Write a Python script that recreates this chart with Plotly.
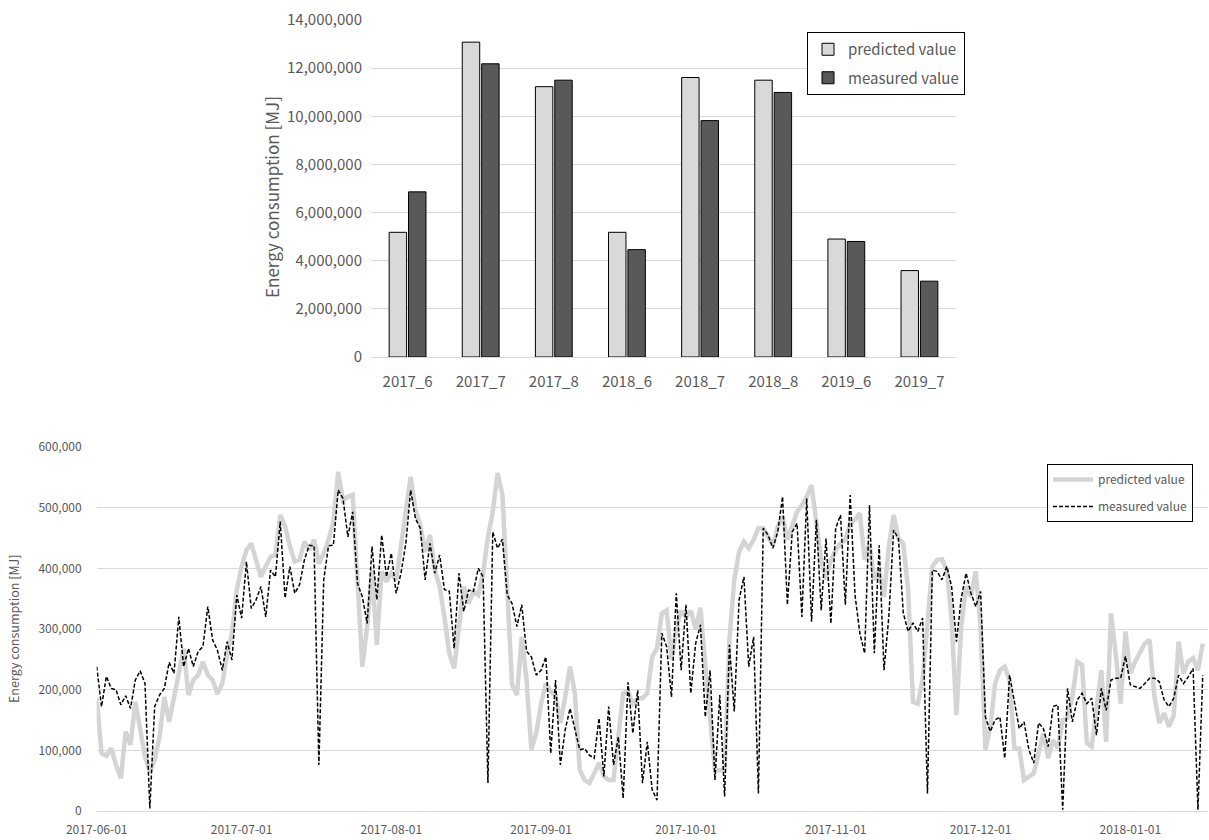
import pandas as pd
import plotly.graph_objects as go

# ---------------- Top chart data (monthly totals) ----------------
months = ["2017_6", "2017_7", "2017_8", "2018_6", "2018_7", "2018_8", "2019_6", "2019_7"]
monthly_predicted = [5180000, 13080000, 11230000, 5180000, 11610000, 11500000, 4900000, 3590000]
monthly_measured = [6860000, 12180000, 11500000, 4460000, 9820000, 10990000, 4800000, 3150000]

# ---------------- Bottom chart data (daily values) ----------------
start_date = "2017-06-01"
daily_predicted = [
    186000, 95000, 91000, 103000, 76000, 54000, 131000, 109000, 180000, 139000,
    90000, 65000, 84000, 122000, 188000, 147000, 183000, 227000, 268000, 191000,
    216000, 224000, 246000, 224000, 216000, 193000, 210000, 259000, 293000, 364000,
    403000, 430000, 441000, 414000, 386000, 403000, 419000, 422000, 488000, 469000,
    436000, 411000, 414000, 444000, 430000, 447000, 408000, 425000, 447000, 477000,
    559000, 512000, 518000, 521000, 384000, 238000, 304000, 397000, 274000, 395000,
    378000, 392000, 381000, 441000, 502000, 551000, 496000, 471000, 427000, 455000,
    397000, 370000, 320000, 260000, 235000, 304000, 370000, 342000, 362000, 356000,
    392000, 452000, 493000, 557000, 521000, 364000, 208000, 191000, 287000, 216000,
    101000, 128000, 177000, 210000, 197000, 190000, 145000, 188000, 238000, 194000,
    68000, 51000, 46000, 62000, 79000, 57000, 51000, 51000, 117000, 194000,
    197000, 177000, 186000, 186000, 194000, 254000, 268000, 326000, 331000, 250000,
    300000, 330000, 320000, 330000, 300000, 335000, 240000, 150000, 67000, 67000,
    67000, 282000, 381000, 427000, 444000, 433000, 447000, 466000, 466000, 452000,
    438000, 469000, 485000, 447000, 469000, 493000, 504000, 518000, 537000, 469000,
    414000, 381000, 414000, 430000, 441000, 447000, 474000, 480000, 491000, 414000,
    441000, 381000, 397000, 353000, 436000, 488000, 449000, 441000, 364000, 180000,
    177000, 216000, 304000, 403000, 414000, 415000, 397000, 315000, 158000, 304000,
    370000, 353000, 395000, 304000, 101000, 139000, 210000, 232000, 238000, 216000,
    103000, 103000, 51000, 57000, 62000, 95000, 128000, 87000, 117000, 103000,
    150000, 153000, 188000, 246000, 241000, 112000, 106000, 169000, 232000, 114000,
    326000, 257000, 177000, 296000, 227000, 246000, 260000, 276000, 282000, 188000,
    145000, 161000, 139000, 158000, 279000, 227000, 246000, 252000, 232000, 276000,
]
daily_measured = [
    238000, 172000, 222000, 202000, 200000, 175000, 190000, 169000, 216000, 231000,
    210000, 4000, 172000, 191000, 202000, 245000, 227000, 320000, 238000, 268000,
    238000, 263000, 271000, 337000, 282000, 265000, 232000, 279000, 249000, 356000,
    318000, 411000, 334000, 348000, 370000, 320000, 397000, 386000, 477000, 351000,
    403000, 359000, 373000, 414000, 438000, 437000, 76000, 381000, 437000, 438000,
    529000, 515000, 452000, 493000, 375000, 353000, 309000, 436000, 348000, 455000,
    386000, 425000, 359000, 392000, 441000, 529000, 482000, 466000, 381000, 441000,
    392000, 422000, 365000, 362000, 268000, 392000, 329000, 364000, 362000, 400000,
    386000, 46000, 460000, 433000, 448000, 356000, 342000, 304000, 340000, 263000,
    254000, 224000, 232000, 254000, 95000, 216000, 76000, 134000, 169000, 134000,
    101000, 103000, 92000, 87000, 153000, 57000, 172000, 76000, 122000, 21000,
    212000, 128000, 199000, 46000, 114000, 35000, 18000, 293000, 271000, 188000,
    359000, 232000, 340000, 194000, 276000, 307000, 155000, 232000, 51000, 191000,
    24000, 274000, 164000, 348000, 386000, 238000, 287000, 29000, 466000, 455000,
    433000, 460000, 518000, 340000, 460000, 474000, 320000, 515000, 312000, 480000,
    331000, 449000, 309000, 466000, 488000, 340000, 521000, 356000, 293000, 260000,
    504000, 260000, 438000, 232000, 320000, 463000, 449000, 326000, 296000, 310000,
    296000, 318000, 29000, 397000, 395000, 381000, 403000, 370000, 279000, 351000,
    392000, 359000, 337000, 362000, 155000, 131000, 150000, 155000, 87000, 224000,
    177000, 136000, 147000, 101000, 79000, 145000, 136000, 106000, 172000, 175000,
    2000, 202000, 147000, 183000, 194000, 177000, 186000, 125000, 202000, 166000,
    216000, 219000, 219000, 255000, 208000, 205000, 202000, 210000, 219000, 219000,
    213000, 183000, 172000, 186000, 224000, 210000, 221000, 235000, 2000, 224000,
]
dates = pd.date_range(start_date, periods=len(daily_measured), freq="D")

W, H = 1209, 840
FONT = "Noto Sans CJK KR"
TXT = "#595959"
GRID = "#d9d9d9"

def px_x(p):
    return p / W

def px_y(p):
    return 1 - p / H

fig = go.Figure()

# Top bars
fig.add_trace(go.Bar(
    x=months, y=monthly_predicted, name="predicted value",
    marker=dict(color="#d9d9d9", line=dict(color="#000000", width=1)),
    xaxis="x", yaxis="y", legend="legend", legendgroup="bp",
))
fig.add_trace(go.Bar(
    x=months, y=monthly_measured, name="measured value",
    marker=dict(color="#595959", line=dict(color="#000000", width=1)),
    xaxis="x", yaxis="y", legend="legend", legendgroup="bm",
))

# Bottom lines
fig.add_trace(go.Scatter(
    x=dates, y=daily_predicted, name="predicted value", mode="lines",
    line=dict(color="#d4d4d4", width=4.5),
    xaxis="x2", yaxis="y2", legend="legend2", legendgroup="lp",
))
fig.add_trace(go.Scatter(
    x=dates, y=daily_measured, name="measured value", mode="lines",
    line=dict(color="#000000", width=1.5, dash="4px,2px"),
    xaxis="x2", yaxis="y2", legend="legend2", legendgroup="lm",
))

fig.update_layout(
    width=W, height=H,
    margin=dict(l=0, r=0, t=0, b=0, autoexpand=False),
    paper_bgcolor="white", plot_bgcolor="white",
    font=dict(family=FONT, color=TXT),
    barmode="group", bargap=0.47, bargroupgap=0.1,
    showlegend=True,
    xaxis=dict(
        domain=[px_x(371), px_x(956)], anchor="y", automargin=False,
        showgrid=False, showline=False, ticks="", ticklabelstandoff=14,
        tickfont=dict(size=15, color=TXT, family=FONT),
    ),
    yaxis=dict(
        domain=[px_y(357), px_y(20)], anchor="x", automargin=False,
        range=[0, 14000000], dtick=2000000, tickformat=",d",
        showgrid=True, gridcolor=GRID, gridwidth=1,
        zeroline=True, zerolinecolor=GRID, zerolinewidth=1,
        showline=False, ticks="", ticklabelstandoff=8,
        tickfont=dict(size=15, color=TXT, family=FONT),
    ),
    xaxis2=dict(
        domain=[px_x(96.7), px_x(1207.6)], anchor="y2", automargin=False,
        type="date", range=["2017-06-01", "2018-01-17"],
        tick0="2017-06-01", dtick="M1", tickformat="%Y-%m-%d",
        showgrid=False, showline=False, ticks="", ticklabelstandoff=10,
        tickfont=dict(size=12, color=TXT, family=FONT),
    ),
    yaxis2=dict(
        domain=[px_y(811), px_y(447)], anchor="x2", automargin=False,
        range=[0, 600000], dtick=100000, tickformat=",d",
        showgrid=True, gridcolor=GRID, gridwidth=1,
        zeroline=True, zerolinecolor=GRID, zerolinewidth=1,
        showline=False, ticks="", ticklabelstandoff=14,
        tickfont=dict(size=12, color=TXT, family=FONT),
    ),
    legend=dict(
        x=px_x(965), xanchor="right", y=px_y(32), yanchor="top",
        bordercolor="#000000", borderwidth=1, bgcolor="white",
        font=dict(size=15, color=TXT, family=FONT),
        tracegroupgap=6, itemwidth=30,
    ),
    legend2=dict(
        x=px_x(1193), xanchor="right", y=px_y(464), yanchor="top",
        bordercolor="#000000", borderwidth=1, bgcolor="white",
        font=dict(size=12, color=TXT, family=FONT),
        tracegroupgap=8, itemwidth=40,
    ),
    annotations=[
        dict(text="Energy consumption [MJ]", x=px_x(271), y=px_y(197),
             xref="paper", yref="paper", xanchor="center", yanchor="middle",
             showarrow=False, textangle=-90,
             font=dict(size=17, color=TXT, family=FONT)),
        dict(text="Energy consumption [MJ]", x=px_x(13), y=px_y(629),
             xref="paper", yref="paper", xanchor="center", yanchor="middle",
             showarrow=False, textangle=-90,
             font=dict(size=12.5, color=TXT, family=FONT)),
    ],
)

fig.write_html("out.html")
